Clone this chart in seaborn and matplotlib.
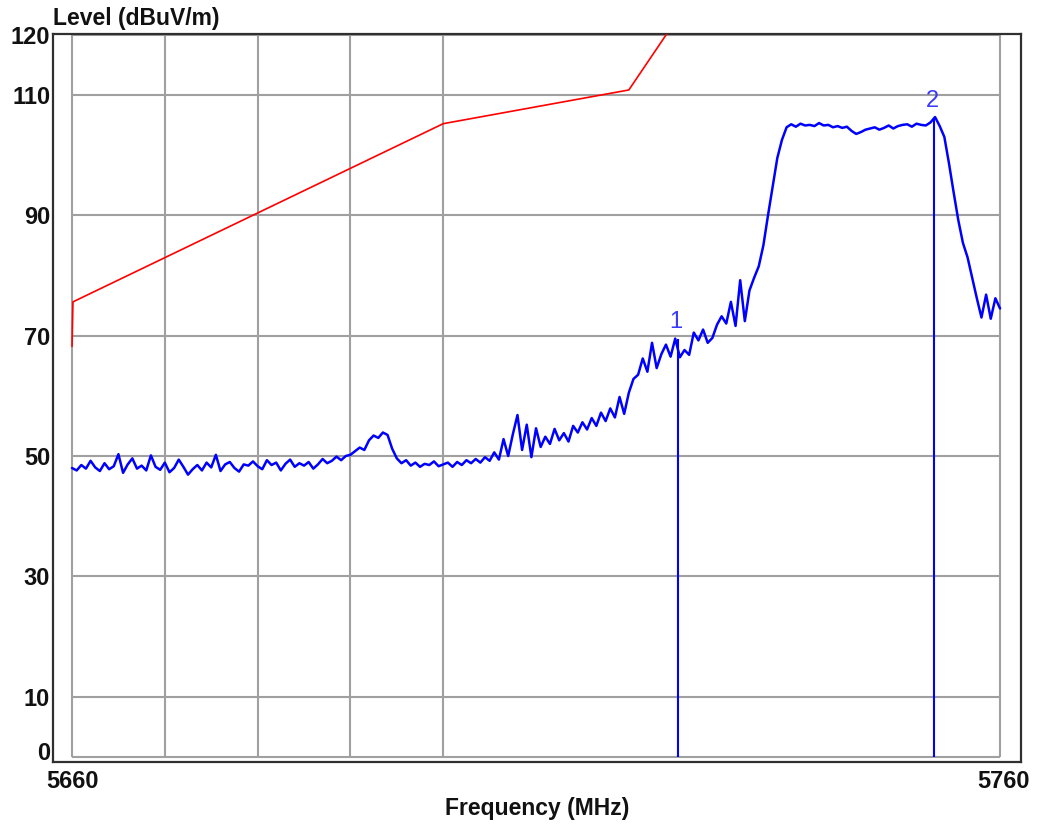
import numpy as np
import pandas as pd
import matplotlib
matplotlib.use("Agg")
import matplotlib.pyplot as plt
from matplotlib.transforms import ScaledTranslation
import seaborn as sns

# --- data ---
# measured trace, one value every 0.5 MHz from 5660 to 5760 MHz
f_start, f_stop = 5660, 5760
level_trace = [
    48.0, 47.6, 48.5, 47.9, 49.2, 48.1, 47.5, 48.8, 47.8, 48.3,
    50.3, 47.2, 48.6, 49.6, 47.9, 48.4, 47.6, 50.1, 48.2, 47.7,
    48.9, 47.3, 48.0, 49.4, 48.2, 46.9, 47.8, 48.5, 47.6, 48.9,
    48.1, 50.2, 47.5, 48.6, 49.0, 48.0, 47.4, 48.6, 48.4, 49.1,
    48.3, 47.8, 49.3, 48.5, 48.9, 47.6, 48.7, 49.4, 48.2, 48.8,
    48.4, 49.0, 47.9, 48.6, 49.5, 48.8, 49.2, 49.9, 49.3, 50.0,
    50.2, 50.8, 51.4, 51.0, 52.6, 53.4, 53.0, 53.9, 53.5, 51.2,
    49.6, 48.8, 49.3, 48.4, 48.9, 48.2, 48.7, 48.5, 49.1, 48.3,
    48.6, 48.9, 48.2, 49.0, 48.5, 49.3, 48.8, 49.5, 48.9, 49.8,
    49.2, 50.6, 49.4, 52.8, 50.0, 53.6, 56.8, 51.0, 55.2, 49.8,
    54.6, 51.5, 53.2, 52.0, 54.5, 52.6, 53.8, 52.4, 55.0, 53.9,
    55.6, 54.4, 56.3, 55.0, 57.2, 55.8, 57.9, 56.4, 59.8, 57.0,
    60.5, 62.8, 63.5, 66.2, 64.0, 68.8, 64.6, 66.9, 68.5, 66.5,
    69.5, 66.4, 67.6, 66.8, 70.5, 69.2, 71.0, 68.8, 69.6, 71.8,
    73.2, 72.0, 75.6, 71.6, 79.2, 72.4, 77.5, 79.6, 81.5, 85.0,
    90.0, 94.8, 99.5, 102.5, 104.6, 105.1, 104.7, 105.2, 104.9, 105.0,
    104.8, 105.3, 104.9, 105.0, 104.6, 104.8, 104.5, 104.7, 104.0, 103.5,
    103.8, 104.2, 104.4, 104.6, 104.2, 104.5, 104.9, 104.4, 104.8, 105.0,
    105.1, 104.7, 105.2, 105.0, 104.9, 105.4, 106.3, 104.8, 103.0, 98.6,
    93.8, 89.2, 85.4, 83.0, 79.6, 76.2, 73.0, 76.8, 72.8, 76.2,
    74.5,
]
freq_trace = np.linspace(f_start, f_stop, len(level_trace))

# limit line (red)
freq_limit = [5660.0, 5660.1, 5700.0, 5720.0, 5725.0]
level_limit = [68.2, 75.6, 105.2, 110.8, 122.2]

# markers
marker_freq = [5725.3, 5752.9]
marker_level = [69.5, 106.2]
marker_text = ["1", "2"]

x_ticks = [5660, 5760]
y_ticks = [0, 10, 30, 50, 70, 90, 110, 120]
grid_x = [5660, 5670, 5680, 5690, 5700, 5760]

trace = pd.DataFrame({"freq": freq_trace, "level": level_trace})
limit = pd.DataFrame({"freq": freq_limit, "level": level_limit})

sns.set_theme(style="white")
plt.rcParams["font.family"] = ["Liberation Sans", "DejaVu Sans"]

W, H = 1037, 826
fig = plt.figure(figsize=(W / 100, H / 100), dpi=100)
ax = fig.add_axes([53 / W, 1 - 761.5 / H, (1021 - 53) / W, (761.5 - 33.5) / H])

# grey grid, only inside the 5660..5760 / 0..120 box
ax.hlines(y_ticks, f_start, f_stop, color="#a0a0a0", lw=1.5, zorder=1)
ax.vlines(grid_x, 0, 120, color="#a0a0a0", lw=1.5, zorder=1)

sns.lineplot(data=limit, x="freq", y="level", ax=ax, color="#ff0000",
             linewidth=1.2, estimator=None, sort=False, zorder=3)
sns.lineplot(data=trace, x="freq", y="level", ax=ax, color="#0000ff",
             linewidth=1.8, estimator=None, zorder=4)

# marker lines + numbers
ax.vlines(marker_freq, 0, marker_level, color="#0000ff", lw=1.5, zorder=5)
for fx, lv, t in zip(marker_freq, marker_level, marker_text):
    ax.text(fx - 0.2, lv + 1.0, t, color="#3a3aff", fontsize=17,
            ha="center", va="bottom", zorder=6)

ax.set_xlim(5657.95, 5762.26)
ax.set_ylim(-0.75, 120.18)

ax.set_xticks(x_ticks)
ax.set_xticklabels([str(v) for v in x_ticks], fontsize=17, fontweight="bold")
ax.set_yticks(y_ticks)
ax.set_yticklabels([str(v) for v in y_ticks], fontsize=17, fontweight="bold")
ax.tick_params(axis="both", length=0, colors="#111111")
ax.tick_params(axis="x", pad=6)
ax.tick_params(axis="y", pad=2)

# the "0" label sits a bit higher than its gridline
lab0 = ax.get_yticklabels()[0]
lab0.set_transform(lab0.get_transform() + ScaledTranslation(0, 6 / 100, fig.dpi_scale_trans))
lab_r = ax.get_xticklabels()[-1]
lab_r.set_transform(lab_r.get_transform() + ScaledTranslation(3 / 100, 0, fig.dpi_scale_trans))

ax.set_xlabel("")
ax.set_ylabel("")
for s in ax.spines.values():
    s.set_color("#303030")
    s.set_linewidth(1.6)

fig.text(537 / W, 1 - 808 / H, "Frequency (MHz)", ha="center", va="center",
         fontsize=16.5, fontweight="bold", color="#111111")
fig.text(53 / W, 1 - 18 / H, "Level (dBuV/m)", ha="left", va="center",
         fontsize=16.5, fontweight="bold", color="#111111")

fig.savefig("out.png", dpi=100)
